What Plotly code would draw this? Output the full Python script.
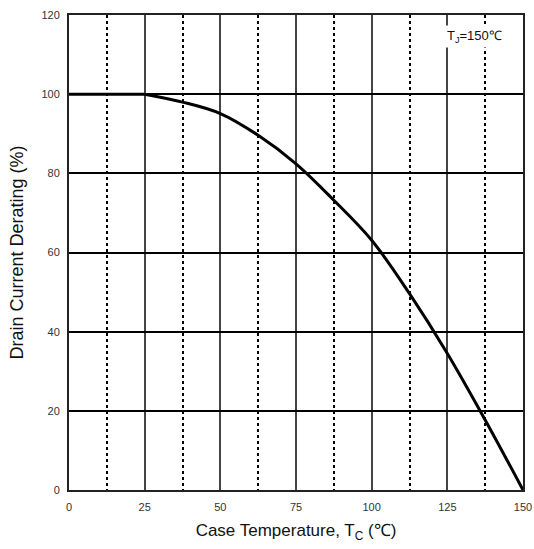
import plotly.graph_objects as go

# Data
case_temp = [0, 25, 37.5, 50, 62.5, 75, 87.5, 100, 112.5, 125, 137.5, 150]
derating = [100, 100, 98.0, 95.1, 89.6, 82.4, 73.2, 63.1, 49.6, 34.5, 17.7, 0]

x_ticks = [0, 25, 50, 75, 100, 125, 150]
y_ticks = [0, 20, 40, 60, 80, 100, 120]

knee = case_temp.index(25)

fig = go.Figure()
# flat part (constant rating up to 25 degC)
fig.add_trace(go.Scatter(
    x=case_temp[:knee + 1], y=derating[:knee + 1], mode="lines",
    line=dict(color="black", width=3),
    hoverinfo="skip", showlegend=False,
))
# derating curve
fig.add_trace(go.Scatter(
    x=case_temp[knee:], y=derating[knee:], mode="lines",
    line=dict(color="black", width=3, shape="spline", smoothing=1.0),
    hoverinfo="skip", showlegend=False,
))

font_fam = "Liberation Sans, Arial, sans-serif"

fig.update_layout(
    width=534, height=549,
    margin=dict(l=69, r=11, t=15, b=59, autoexpand=False),
    paper_bgcolor="white", plot_bgcolor="white",
    font=dict(family=font_fam, color="#333333"),
    xaxis=dict(
        range=[0, 150], tickvals=x_ticks, ticktext=[str(v) for v in x_ticks],
        showgrid=True, gridcolor="#444444", gridwidth=1.5,
        minor=dict(dtick=12.5, tick0=0, showgrid=True, griddash="dot",
                   gridcolor="black", gridwidth=1.5),
        showline=True, linecolor="#222222", linewidth=2, mirror=True,
        ticks="outside", ticklen=6, tickcolor="rgba(0,0,0,0)",
        tickfont=dict(size=11, color="#333333"), zeroline=False, automargin=False,
        title=dict(text="Case Temperature, T<sub>C</sub> (℃)",
                   font=dict(size=17, color="#111111"), standoff=12),
    ),
    yaxis=dict(
        range=[0, 120], tickvals=y_ticks, ticktext=[str(v) for v in y_ticks],
        showgrid=True, gridcolor="black", gridwidth=1.5,
        showline=True, linecolor="#222222", linewidth=2, mirror=True,
        ticks="outside", ticklen=5, tickcolor="rgba(0,0,0,0)",
        tickfont=dict(size=11, color="#333333"), zeroline=False, automargin=False,
        title=dict(text="Drain Current Derating (%)",
                   font=dict(size=18, color="#111111"), standoff=13),
    ),
    annotations=[dict(
        x=0.894, y=0.955, xref="paper", yref="paper", xanchor="center", yanchor="middle",
        text="T<sub>J</sub>=150℃", showarrow=False,
        font=dict(size=13, color="#111111", family=font_fam),
        bgcolor="white", borderpad=2,
    )],
)

fig.write_html("out.html")
